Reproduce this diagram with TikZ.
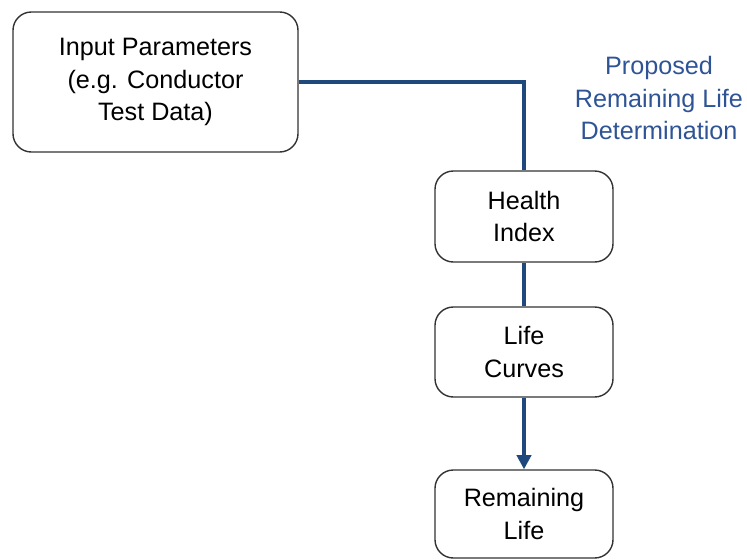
\documentclass[tikz,border=0pt]{standalone}
\usepackage{fontspec}
\setmainfont{Liberation Sans}
\usepackage{xcolor}
\usetikzlibrary{arrows.meta}

\definecolor{flowblue}{RGB}{31,73,125}
\definecolor{notetext}{RGB}{47,84,150}

\begin{document}
\begin{tikzpicture}[x=0.03cm, y=0.03cm,
    stepbox/.style={draw=black!80, line width=1.2pt, rounded corners=0.55cm,
        align=center, minimum width=5.34cm, inner sep=0pt,
        font=\fontsize{21.5}{28}\selectfont},
    flow/.style={draw=flowblue, line width=3pt}]
                \useasboundingbox (0,0) rectangle (747,-560);
                \node [stepbox, minimum width=8.55cm, minimum height=4.2cm] (input) at (155.5,-82) {Input Parameters\\(e.g. Conductor\\Test Data)};
                \node [stepbox, minimum height=2.73cm] (health) at (524,-216.5) {Health\\Index};
                \node [stepbox, minimum height=2.7cm] (curves) at (524,-352) {Life\\Curves};
                \node [stepbox, minimum height=2.64cm] (remaining) at (524,-514) {Remaining\\Life};
                \node [align=center, text=notetext, font=\fontsize{21.5}{28}\selectfont] (note) at (659,-98) {Proposed\\Remaining Life\\Determination};
                \draw [flow] (input.east |- 0,-82) -| (health.north);
                \draw [flow] (health) -- (curves);
                \draw [flow, -{Triangle[length=12pt,width=12pt]}] (curves) -- (remaining);
\end{tikzpicture}
\end{document}
